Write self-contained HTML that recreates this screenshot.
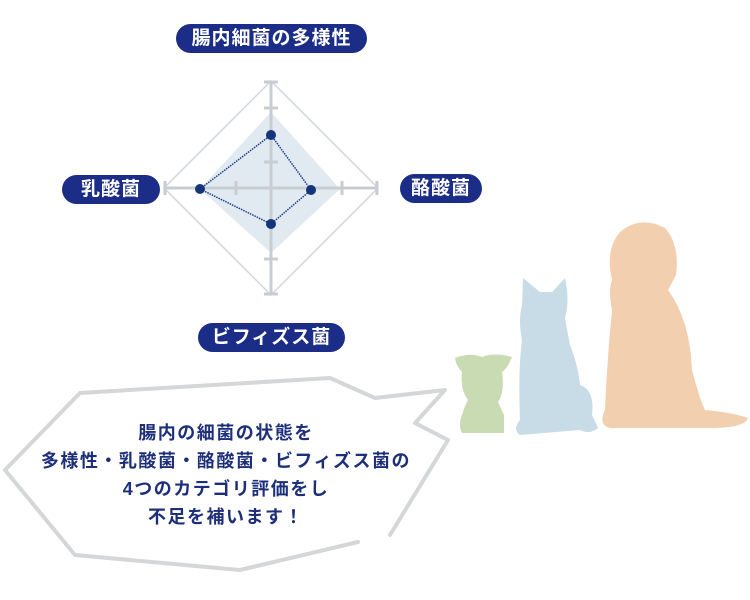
<!DOCTYPE html>
<html><head><meta charset="utf-8"><style>
html,body{margin:0;padding:0;background:#fff;width:750px;height:600px;overflow:hidden;font-family:"Liberation Sans","Noto Sans CJK JP",sans-serif}
.pill{position:absolute;background:#1b2d86;color:#fff;font-weight:bold;border-radius:16px;text-align:center;font-size:19px;line-height:29px;height:29px;letter-spacing:1px}
.txt{position:absolute;left:0;width:452px;text-align:center;color:#1d2f7a;font-size:18px;line-height:28px;top:419px;font-weight:bold;letter-spacing:1.5px}
</style></head><body>
<svg width="750" height="600" style="position:absolute;left:0;top:0">
<polygon points="271,112 340,189 271,253 200,189" fill="#e2eaf1"/>
<polygon points="271,81 378,188 271,295 164,188" fill="none" stroke="#d2d6dc" stroke-width="1.5"/>
<g stroke="#c8ccd3" stroke-width="3">
<line x1="271" y1="81" x2="271" y2="295"/><line x1="164" y1="188" x2="378" y2="188"/>
<line x1="264" y1="82" x2="278" y2="82"/><line x1="264" y1="108" x2="278" y2="108"/><line x1="264" y1="162" x2="278" y2="162"/><line x1="264" y1="259" x2="278" y2="259"/><line x1="264" y1="294" x2="278" y2="294"/>
<line x1="165" y1="181" x2="165" y2="195"/><line x1="236" y1="181" x2="236" y2="195"/><line x1="342" y1="181" x2="342" y2="195"/><line x1="377" y1="181" x2="377" y2="195"/>
</g>
<polygon points="271,135 311,190 271,224 200,189" fill="none" stroke="#1b3f8a" stroke-width="1.5" stroke-dasharray="1.5,1"/>
<g fill="#13357a"><circle cx="271" cy="135" r="5"/><circle cx="311" cy="190" r="5"/><circle cx="271" cy="224" r="5"/><circle cx="200" cy="189" r="5"/></g>
<polyline points="390,535 448,440 415,423 445,390 375,398 330,378 80,393 5,470 75,555 240,570 358,542" fill="#fff" stroke="#d4d6d8" stroke-width="4" stroke-linejoin="round" stroke-linecap="round"/>
<g fill="#f2cfae">
<path d="M620,232 Q640,215 665,228 Q680,245 676,275 L668,290 Q690,320 692,370 Q700,400 705,410 Q730,412 748,418 Q745,428 710,428 L610,428 Q598,425 605,410 Q607,360 612,310 Q608,290 612,280 Q605,250 620,232Z"/>
</g>
<g fill="#c8dce8">
<path d="M523,278 L540,292 L552,292 L565,278 Q570,300 565,318 L570,345 Q578,365 580,385 Q595,390 592,415 L598,428 Q590,435 580,430 L520,435 Q512,430 520,420 Q518,370 522,340 Q518,320 522,305 Z"/>
</g>
<g fill="#c9dbb3">
<path d="M455,358 Q470,352 482,357 Q495,352 512,357 Q508,368 502,372 Q505,392 498,402 L504,415 L504,433 L462,433 Q458,425 462,415 Q465,405 468,400 Q460,390 462,372 Q456,366 455,358Z"/>
</g>
</svg>
<div class="pill" style="left:176px;top:24px;width:191px">腸内細菌の多様性</div>
<div class="pill" style="left:62px;top:175px;width:98px">乳酸菌</div>
<div class="pill" style="left:400px;top:174px;width:82px">酪酸菌</div>
<div class="pill" style="left:198px;top:323px;width:147px">ビフィズス菌</div>
<div class="txt">腸内の細菌の状態を<br>多様性・乳酸菌・酪酸菌・ビフィズス菌の<br>4つのカテゴリ評価をし<br>不足を補います！</div>
</body></html>
